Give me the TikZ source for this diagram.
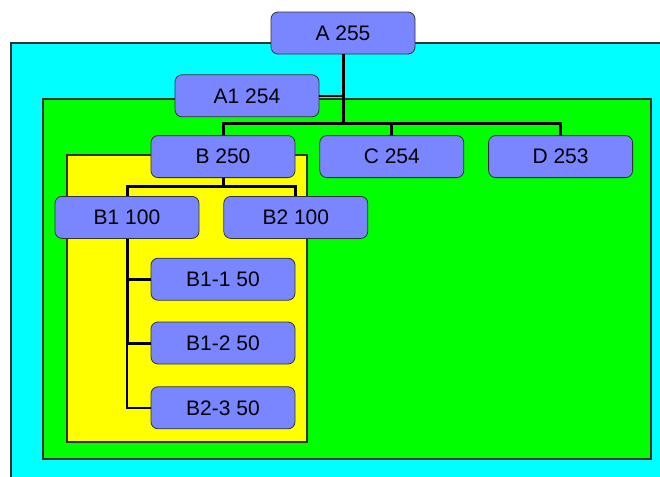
\documentclass[tikz,border=0pt]{standalone}
\usepackage{fontspec}
\setmainfont{Liberation Sans}
\usetikzlibrary{positioning,calc}

\definecolor{boxblue}{RGB}{122,134,255}
\definecolor{edgegray}{RGB}{51,51,51}
\definecolor{outercyan}{RGB}{0,255,255}
\definecolor{midgreen}{RGB}{0,255,0}
\definecolor{inneryellow}{RGB}{255,255,0}

\begin{document}
\begin{tikzpicture}[x=0.5pt, y=-0.5pt, node distance=10pt, auto]
\tikzstyle{block} = [rectangle, draw=edgegray, fill=boxblue, minimum width=72pt, minimum height=21pt, text centered, rounded corners=3.5pt, font=\fontsize{10.5}{12}\selectfont, inner sep=0pt]
\tikzstyle{area} = [draw=edgegray, line width=0.6pt]
\tikzstyle{link} = [line width=1.5pt]
\tikzstyle{thinlink} = [line width=1pt]

\useasboundingbox (0,0) rectangle (660,477);

% nested regions
\draw [area, fill=outercyan] (11,43) rectangle (664,481);
\draw [area, fill=midgreen] (43,99) rectangle (651,459);
\draw [area, fill=inneryellow] (67,155) rectangle (307,442);

\node [block] (A) at (343,33) {A 255};
\node [block, below=10pt of A, xshift=-48pt] (A1) {A1 254};
\node [block, below=9pt of A1, xshift=-12pt] (B) {B 250};
\node [block, right=12pt of B] (C) {C 254};
\node [block, right=12pt of C] (D) {D 253};
\node [block, below=9pt of B, xshift=-48pt] (B1) {B1 100};
\node [block, right=12pt of B1] (B2) {B2 100};
\node [block, below=9.5pt of B1, xshift=48pt] (b11) {B1-1 50};
\node [block, below=10.5pt of b11] (b12) {B1-2 50};
\node [block, below=11pt of b12] (b23) {B2-3 50};

\coordinate (jA) at ([yshift=6pt]B.north -| A.south);
\coordinate (jB) at ([yshift=5pt]B1.north -| B.south);

\draw [link] (A.south) -- (jA);
\draw [thinlink] (A1.east) -- (A1.east -| jA);
\draw [link] (jA) -| (B.north);
\draw [link] (jA) -| (C.north);
\draw [link] (jA) -| (D.north);

\draw [link] (B.south) -- (jB);
\draw [link] (jB) -| (B1.north);
\draw [link] (jB) -| (B2.north);

\draw [thinlink] (B1.south) |- (b23.west);
\draw [link] (B1.south) |- (b11.west);
\draw [link] (B1.south) |- (b12.west);
\end{tikzpicture}
\end{document}
